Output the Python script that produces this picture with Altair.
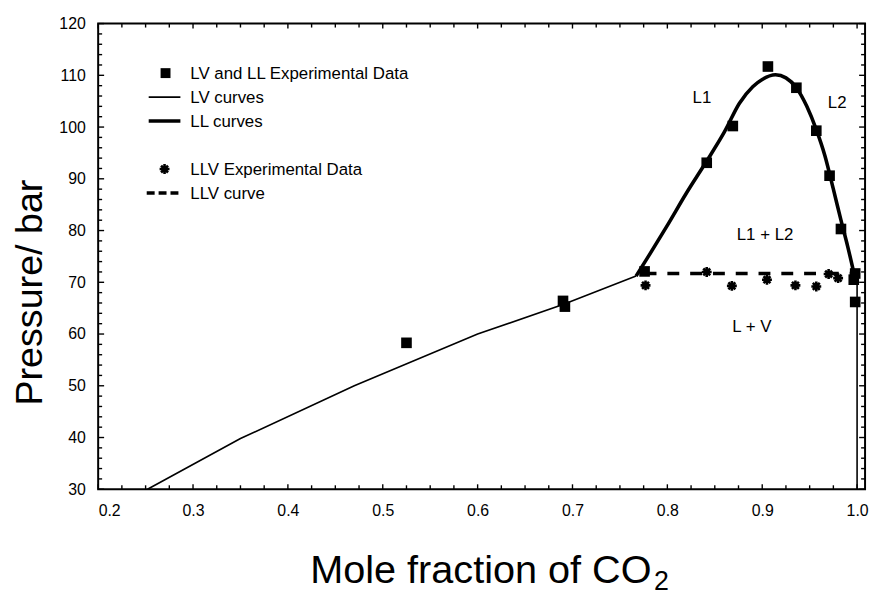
import altair as alt
import pandas as pd

# ---------------- data ----------------
# LV curve (thin line)
lv_x = [0.252, 0.35, 0.47, 0.60, 0.69, 0.767]
lv_p = [30.0, 39.8, 50.0, 60.0, 65.7, 71.2]
# LV curve at pure CO2 side (thin vertical line)
lv2_x = [1.0, 1.0]
lv2_p = [70.6, 30.0]
# LL curve (thick line)
ll_x = [0.767, 0.78, 0.80, 0.82, 0.84, 0.86, 0.876, 0.89, 0.90, 0.914,
        0.925, 0.936, 0.947, 0.957, 0.966, 0.975, 0.983, 0.99, 0.997]
ll_p = [71.2, 75.0, 81.0, 87.2, 93.0, 99.0, 104.6, 107.8, 109.2, 110.1,
        109.5, 107.6, 104.0, 99.5, 94.5, 88.0, 82.0, 77.0, 71.5]
# LLV curve (dashed)
llv_x = [0.776, 0.998]
llv_p = [71.7, 71.7]
# LV and LL experimental data (squares)
exp_x = [0.525, 0.690, 0.692, 0.776, 0.8415, 0.869, 0.906, 0.936, 0.957,
         0.971, 0.983, 0.998, 0.9965, 0.998]
exp_p = [58.3, 66.4, 65.3, 72.1, 93.1, 100.2, 111.7, 107.6, 99.3,
         90.6, 80.3, 71.7, 70.5, 66.2]
# LLV experimental data (asterisks)
llvexp_x = [0.777, 0.8415, 0.868, 0.905, 0.935, 0.957, 0.970, 0.980]
llvexp_p = [69.4, 72.0, 69.3, 70.5, 69.4, 69.2, 71.6, 70.8]

# region annotations
ann_text = ["L1", "L2", "L1 + L2", "L + V"]
ann_x = [0.8365, 0.979, 0.903, 0.889]
ann_p = [105.7, 104.7, 79.2, 61.3]

# legend entries
leg_labels = ["LV and LL Experimental Data", "LV curves", "LL curves",
              "LLV Experimental Data", "LLV curve"]
leg_kind = ["square", "thin", "thick", "star", "dash"]
leg_row = [0, 1, 2, 4, 5]

# axis ticks
x_major = [0.2, 0.3, 0.4, 0.5, 0.6, 0.7, 0.8, 0.9, 1.0]
y_major = [30, 40, 50, 60, 70, 80, 90, 100, 110, 120]
x_minor = [round(0.2 + 0.025 * i, 3) for i in range(33) if i % 4 != 0]
y_minor = [v for v in range(30, 121, 2) if v % 10 != 0]

# ---------------- layout ----------------
W, H = 774, 470
FONT = "Liberation Sans"
xs = alt.Scale(domain=[0.2, 1.0084], nice=False, zero=False)
ys = alt.Scale(domain=[30, 120], nice=False, zero=False)

AX_X = alt.Axis(values=x_major, format=".1f", title=None, grid=False,
                ticks=False, domain=False, labelFont=FONT, labelFontSize=16,
                labelColor="black", labelPadding=13)
AX_Y = alt.Axis(values=y_major, format="d", title="Pressure/ bar", grid=False,
                ticks=False, domain=False, labelFont=FONT, labelFontSize=16,
                labelColor="black", labelPadding=13,
                titleFontSize=38, titleFont=FONT, titleFontWeight="normal",
                titleColor="black", titleAngle=270, titleX=-57, titleY=271,
                titleAlign="center", titleBaseline="alphabetic")

ASTER = "M-1,0L1,0M0,-1L0,1M-0.7,-0.7L0.7,0.7M-0.7,0.7L0.7,-0.7"


def df(xv, pv):
    return pd.DataFrame({"x": xv, "p": pv, "i": list(range(len(xv)))})


def X(field="x:Q"):
    return alt.X(field, scale=xs, axis=AX_X)


def Y(field="p:Q"):
    return alt.Y(field, scale=ys, axis=AX_Y)


lv = alt.Chart(df(lv_x, lv_p)).mark_line(color="black", strokeWidth=1.6).encode(
    x=X(), y=Y(), order="i:Q")
lv2 = alt.Chart(df(lv2_x, lv2_p)).mark_line(color="black", strokeWidth=1.6).encode(
    x=X(), y=Y(), order="i:Q")
ll = alt.Chart(df(ll_x, ll_p)).mark_line(
    color="black", strokeWidth=3.6, interpolate="monotone").encode(
    x=X(), y=Y(), order="i:Q")
llv = alt.Chart(df(llv_x, llv_p)).mark_line(
    color="black", strokeWidth=3.6, strokeDash=[12, 11]).encode(
    x=X(), y=Y(), order="i:Q")

squares = alt.Chart(df(exp_x, exp_p)).mark_point(
    shape="square", filled=True, color="black", size=115, opacity=1).encode(
    x=X(), y=Y())
stars = alt.Chart(df(llvexp_x, llvexp_p)).mark_point(
    shape=ASTER, filled=False, color="black", size=100, strokeWidth=2.6,
    opacity=1).encode(x=X(), y=Y())

ann = alt.Chart(pd.DataFrame({"t": ann_text, "x": ann_x, "p": ann_p})).mark_text(
    font=FONT, fontSize=17, color="black", align="center", baseline="middle").encode(
    x=X(), y=Y(), text="t:N")


# ---- inward ticks on all four sides ----
def tick_layers(vals, axis_ch, length):
    d = pd.DataFrame({"v": vals})
    base = alt.Chart(d).mark_rule(color="black", strokeWidth=1.4)
    if axis_ch == "x":
        enc = X("v:Q")
        return [
            base.encode(x=enc, y=alt.value(H), y2=alt.value(H - length)),
            base.encode(x=enc, y=alt.value(0), y2=alt.value(length)),
        ]
    enc = Y("v:Q")
    return [
        base.encode(y=enc, x=alt.value(0), x2=alt.value(length)),
        base.encode(y=enc, x=alt.value(W), x2=alt.value(W - length)),
    ]


ticks = (tick_layers(x_major, "x", 5) + tick_layers(x_minor, "x", 4)
         + tick_layers(y_major, "y", 6) + tick_layers(y_minor, "y", 4))

# ---- legend (drawn inside the plot, upper left) ----
legend_layers = []
for label, kind, row in zip(leg_labels, leg_kind, leg_row):
    ty = 56 + row * 24.2
    sy = ty - 6
    d = pd.DataFrame({"label": [label]})
    base = alt.Chart(d)
    legend_layers.append(base.mark_text(
        font=FONT, fontSize=17, color="black", align="left",
        baseline="alphabetic").encode(
        x=alt.value(93), y=alt.value(ty), text="label:N"))
    if kind == "square":
        legend_layers.append(base.mark_point(
            shape="square", filled=True, color="black", size=100,
            opacity=1).encode(x=alt.value(68), y=alt.value(sy)))
    elif kind == "star":
        legend_layers.append(base.mark_point(
            shape=ASTER, filled=False, color="black", size=100,
            strokeWidth=2.6, opacity=1).encode(x=alt.value(67), y=alt.value(sy)))
    elif kind == "thin":
        legend_layers.append(base.mark_rule(color="black", strokeWidth=1.6).encode(
            x=alt.value(51), x2=alt.value(83), y=alt.value(sy)))
    elif kind == "thick":
        legend_layers.append(base.mark_rule(color="black", strokeWidth=3.6).encode(
            x=alt.value(51), x2=alt.value(83), y=alt.value(sy)))
    else:
        legend_layers.append(base.mark_rule(
            color="black", strokeWidth=3.6, strokeDash=[8, 4]).encode(
            x=alt.value(49), x2=alt.value(83), y=alt.value(sy)))

# ---- x-axis title with subscript ----
xt_main = alt.Chart(pd.DataFrame({"t": ["Mole fraction of CO"]})).mark_text(
    font=FONT, fontSize=40, color="black", align="left", baseline="alphabetic").encode(
    x=alt.value(214), y=alt.value(565), text="t:N")
xt_sub = alt.Chart(pd.DataFrame({"t": ["2"]})).mark_text(
    font=FONT, fontSize=27, color="black", align="left", baseline="alphabetic").encode(
    x=alt.value(561), y=alt.value(572), text="t:N")

chart = alt.layer(
    squares, lv, lv2, ll, llv, stars, ann, *ticks,
    *legend_layers,
    xt_main, xt_sub,
).properties(
    width=W, height=H,
    background="white",
    autosize=alt.AutoSizeParams(type="none"),
    padding={"left": 91, "top": 13, "right": 6, "bottom": 104},
).configure_view(
    stroke="black", strokeWidth=2
)

chart.save("out.html", embed_options={"renderer": "svg", "actions": False})
